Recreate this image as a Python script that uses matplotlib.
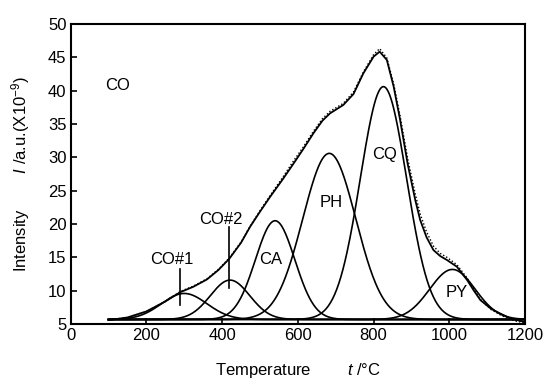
import numpy as np
import matplotlib
matplotlib.use('Agg')
import matplotlib.pyplot as plt

plt.rcParams['font.family'] = ['Liberation Sans', 'DejaVu Sans']
plt.rcParams['mathtext.fontset'] = 'custom'
plt.rcParams['mathtext.rm'] = 'Liberation Sans'
plt.rcParams['mathtext.it'] = 'Liberation Sans:italic'

# fitted peak components (Gaussian parameters)
peak_names = ['CO#1', 'CO#2', 'CA', 'PH', 'CQ', 'PY']
peak_centers = [300, 421, 540, 683, 826, 1008]
peak_heights = [9.6, 11.6, 20.5, 30.6, 40.6, 13.2]
peak_sigmas = [60, 52, 52, 70, 61, 60]
baseline = 5.7

# fitted envelope and measured signal
temps = [100, 150, 200, 250, 290, 324, 360, 390, 419, 450, 474, 500, 527, 560,
         589, 615, 641, 665, 685, 720, 747, 773, 800, 816, 835, 853, 870, 890,
         910, 923, 940, 958, 976, 994, 1020, 1047, 1065, 1082, 1110, 1134, 1160,
         1179, 1200]
fit_total = [5.6, 6.0, 6.9, 8.4, 9.8, 10.6, 11.7, 13.1, 14.8, 17.2, 19.6, 21.85,
             24.1, 26.7, 29.1, 31.3, 33.6, 35.5, 36.6, 37.85, 39.5, 42.6, 45.1,
             45.85, 44.6, 40.6, 35.6, 29.0, 23.6, 20.6, 18.0, 16.1, 15.2, 14.6,
             13.6, 11.6, 10.0, 8.6, 7.3, 6.6, 5.9, 5.6, 5.3]
measured = [5.6, 6.0, 6.9, 8.4, 9.9, 10.7, 11.8, 13.2, 14.9, 17.3, 19.7, 22.0,
            24.3, 27.0, 29.5, 31.6, 33.9, 35.8, 36.9, 38.1, 39.8, 42.8, 45.4,
            46.3, 44.9, 41.0, 36.2, 29.8, 24.5, 21.5, 18.8, 16.7, 15.6, 15.0,
            13.9, 11.9, 10.2, 8.7, 7.2, 6.4, 5.7, 5.4, 5.2]

fig = plt.figure(figsize=(5.47, 3.80), dpi=100)
ax = fig.add_axes([0.129, 0.147, 0.831, 0.79])

t = np.linspace(100, 1200, 600)
for c, h, s in zip(peak_centers, peak_heights, peak_sigmas):
    y = baseline + (h - baseline) * np.exp(-(t - c) ** 2 / (2 * s ** 2))
    ax.plot(t, y, color='black', lw=1.2)

ax.plot(temps, fit_total, color='black', lw=1.3)
ax.plot(temps, measured, color='black', lw=1.0, ls=(0, (1, 1.5)))

fs = 12
ax.text(123, 40.7, 'CO', fontsize=fs, ha='center', va='center')
ax.text(268, 14.7, 'CO#1', fontsize=fs, ha='center', va='center')
ax.plot([289, 289], [7.85, 13.2], color='black', lw=1.2)
ax.text(398, 20.75, 'CO#2', fontsize=fs, ha='center', va='center')
ax.plot([419, 419], [10.35, 19.6], color='black', lw=1.2)
ax.text(528, 14.7, 'CA', fontsize=fs, ha='center', va='center')
ax.text(687, 23.2, 'PH', fontsize=fs, ha='center', va='center')
ax.text(828, 30.4, 'CQ', fontsize=fs, ha='center', va='center')
ax.text(1020, 9.8, 'PY', fontsize=fs, ha='center', va='center')

ax.set_xlim(0, 1200)
ax.set_ylim(5, 50)
ax.set_xticks(range(0, 1201, 200))
ax.set_yticks(range(5, 51, 5))
ax.tick_params(direction='in', length=4, width=1.2, labelsize=fs, pad=3)
for sp in ax.spines.values():
    sp.set_linewidth(1.5)

ax.set_xlabel('Temperature        $\\it{t}$ /°C', fontsize=fs, labelpad=13)
ax.set_ylabel('Intensity        $\\it{I}$ /a.u.(X10$^{-9}$)', fontsize=fs, labelpad=11)

fig.savefig('out.png', dpi=100)
